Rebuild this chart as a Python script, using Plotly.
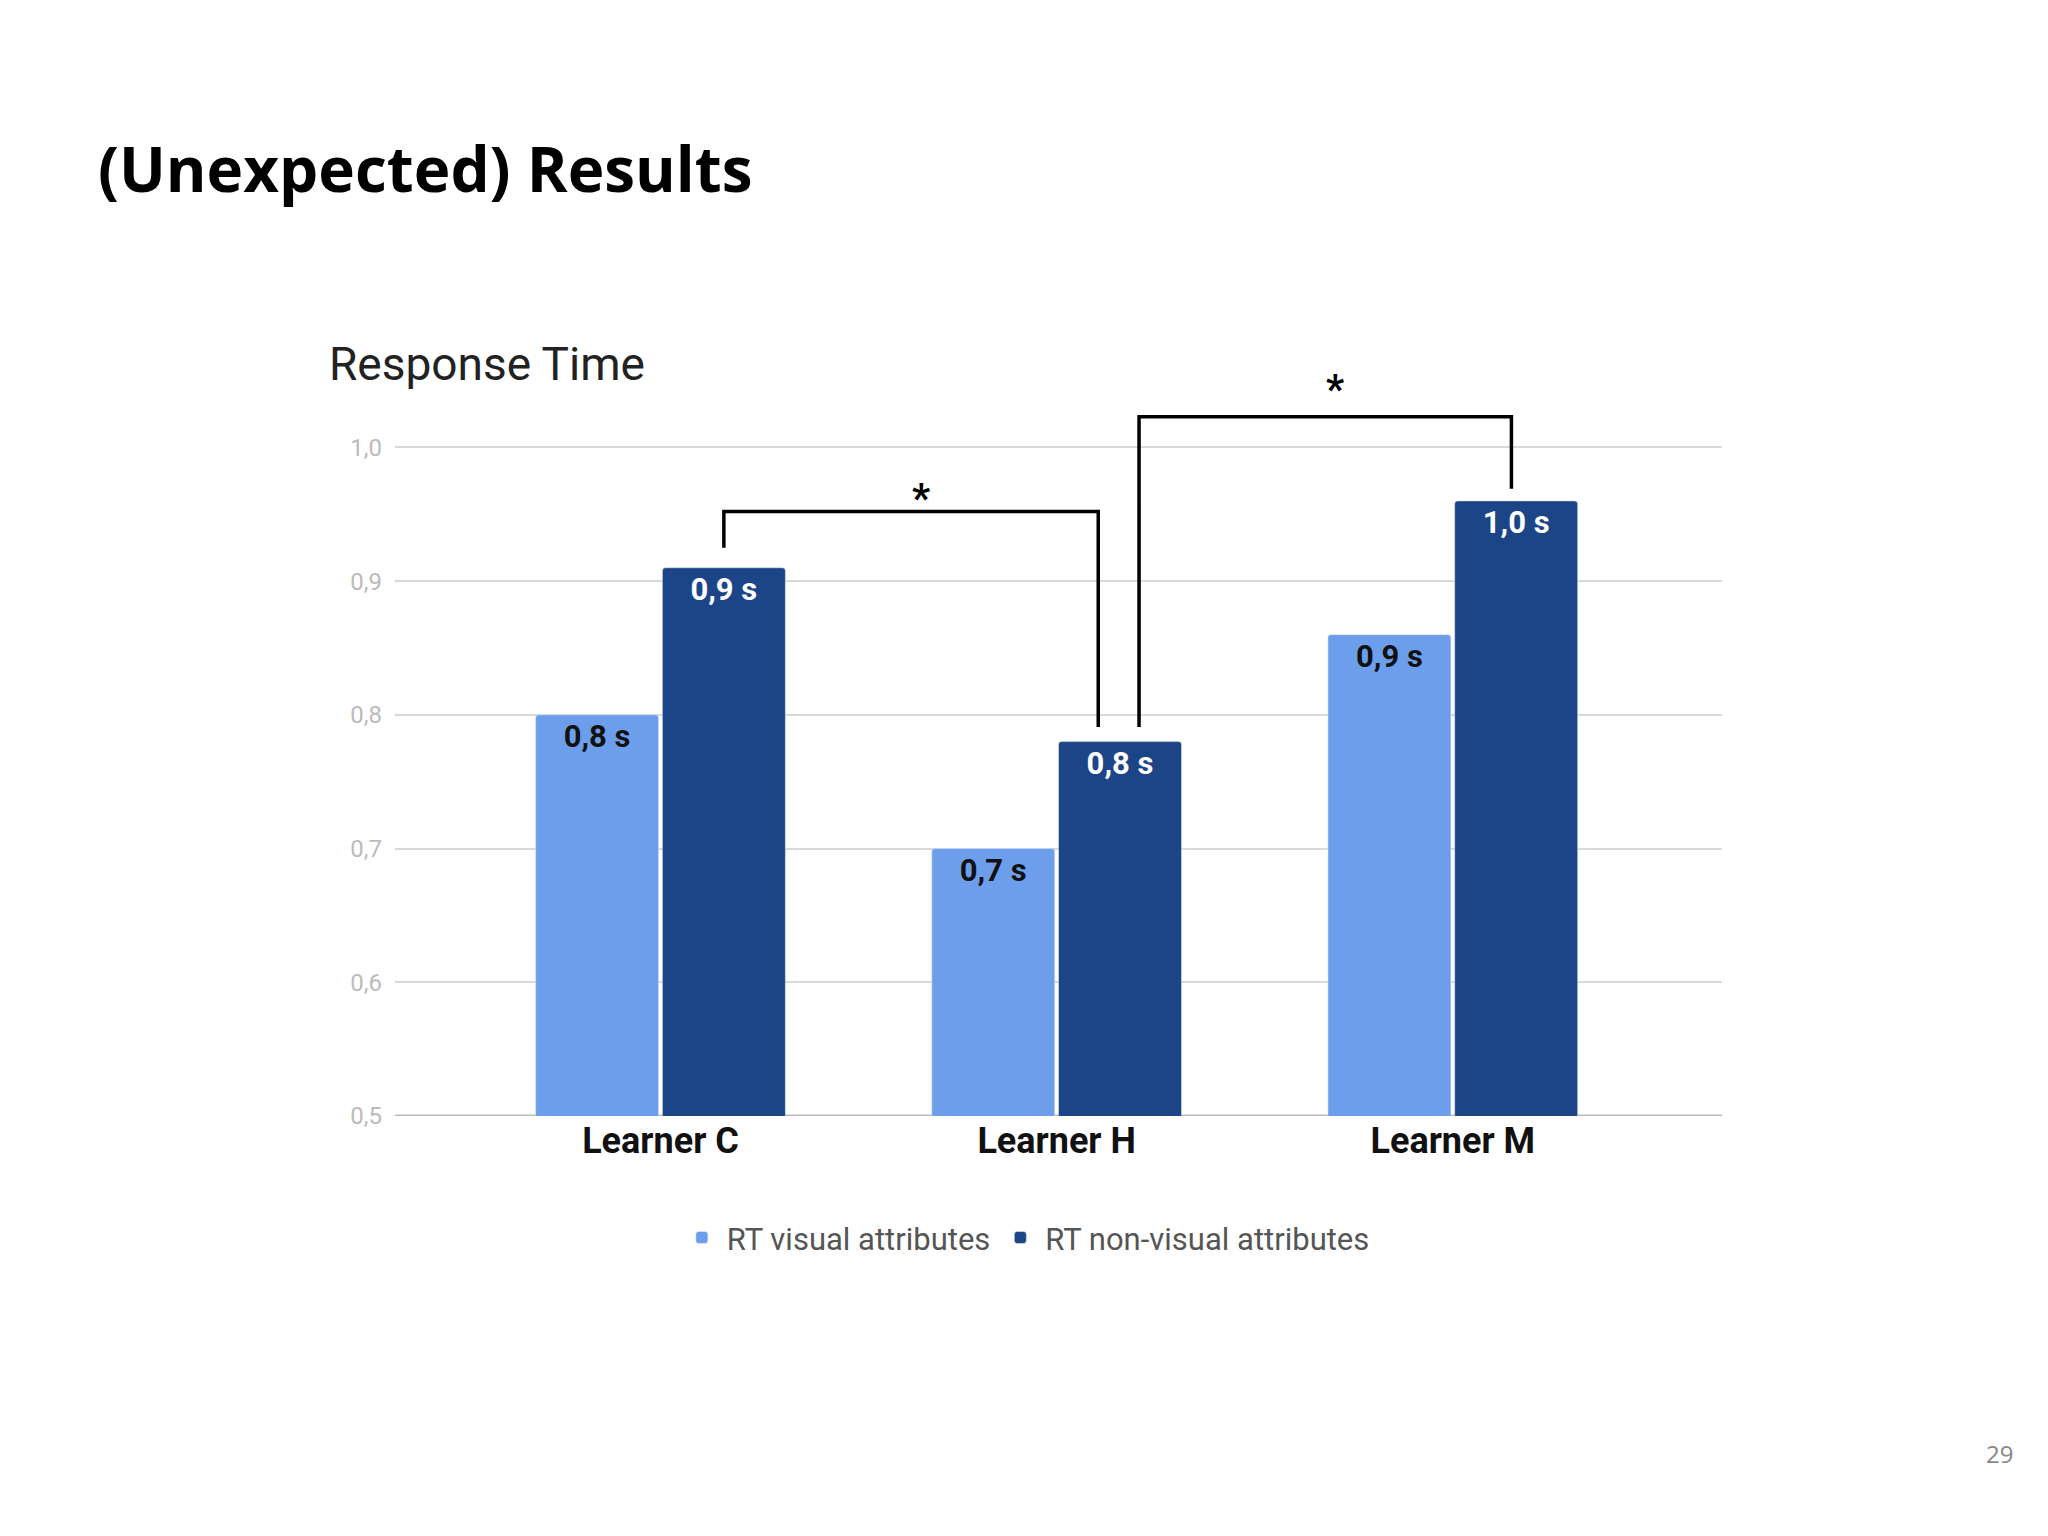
import plotly.graph_objects as go

categories = ["Learner C", "Learner H", "Learner M"]
visual = [0.80, 0.70, 0.86]
nonvisual = [0.91, 0.78, 0.96]
series_names = ["RT visual attributes", "RT non-visual attributes"]
tick_vals = [0.5, 0.6, 0.7, 0.8, 0.9, 1.0]
xpos = list(range(len(categories)))

fig = go.Figure()
fig.add_bar(x=xpos, y=visual, name=series_names[0], marker=dict(color="#6d9eeb", cornerradius=3),
            texttemplate="<b>%{y}</b>", textposition="inside", insidetextanchor="end",
            textfont=dict(color="#111", size=31, family="Roboto"), textangle=0)
fig.add_bar(x=xpos, y=nonvisual, name=series_names[1], marker=dict(color="#1c4587", cornerradius=3),
            texttemplate="<b>%{y}</b>", textposition="inside", insidetextanchor="end",
            textfont=dict(color="white", size=31, family="Roboto"), textangle=0)

line = dict(color="black", width=3.5)
# bracket C vs H
fig.add_shape(type="path", path="M 0.16,0.925 L 0.16,0.952 L 1.105,0.952 L 1.105,0.791",
              xref="x", yref="y", line=line)
fig.add_shape(type="path", path="M 1.208,0.791 L 1.208,1.023 L 2.148,1.023 L 2.148,0.969",
              xref="x", yref="y", line=line)
fig.add_annotation(x=0.657, y=0.962, text="<b>*</b>", showarrow=False, font=dict(size=40, color="black"))
fig.add_annotation(x=1.703, y=1.043, text="<b>*</b>", showarrow=False, font=dict(size=40, color="black"))

fig.add_annotation(x=0.043, y=0.895, xref="paper", yref="paper", xanchor="left", yanchor="middle",
                   text="<b>(Unexpected) Results</b>", showarrow=False,
                   font=dict(size=62, color="black", family="Open Sans"))
fig.add_annotation(x=0.156, y=0.766, xref="paper", yref="paper", xanchor="left", yanchor="middle",
                   text="Response Time", showarrow=False, font=dict(size=46, color="#222", family="Roboto"))
fig.add_annotation(x=0.98, y=0.05, xref="paper", yref="paper", xanchor="right", yanchor="middle",
                   text="29", showarrow=False, font=dict(size=24, color="#888", family="Open Sans"))

fig.update_layout(
    width=2048, height=1536, paper_bgcolor="white", plot_bgcolor="white",
    separators=",.", barmode="group", bargap=0.36, bargroupgap=0.03,
    margin=dict(l=0, r=0, t=0, b=0),
    font=dict(family="Roboto"),
    showlegend=True,
    legend=dict(orientation="h", x=0.497, xanchor="center", y=0.192, yanchor="middle",
                font=dict(size=31, color="#555", family="Roboto"), itemwidth=40,
                entrywidthmode="pixels"),
    xaxis=dict(domain=[0.189, 0.837], range=[-0.67, 2.68], tickvals=xpos,
               ticktext=["<b>%s</b>" % c for c in categories],
               tickfont=dict(size=36, color="#111", family="Roboto"), showgrid=False,
               showline=False, zeroline=False, ticks=""),
    yaxis=dict(domain=[0.272, 0.764], range=[0.5, 1.06], tickvals=tick_vals,
               tickformat=".1f", ticksuffix=" s", tickfont=dict(size=24, color="#bbb"),
               gridcolor="#d9d9d9", gridwidth=2, zeroline=False, showline=False, ticklabelstandoff=12),
)
fig.add_shape(type="line", xref="paper", yref="y", x0=0.189, x1=0.837, y0=0.5, y1=0.5,
              line=dict(color="#bbb", width=3), layer="below")

fig.write_html("out.html")
